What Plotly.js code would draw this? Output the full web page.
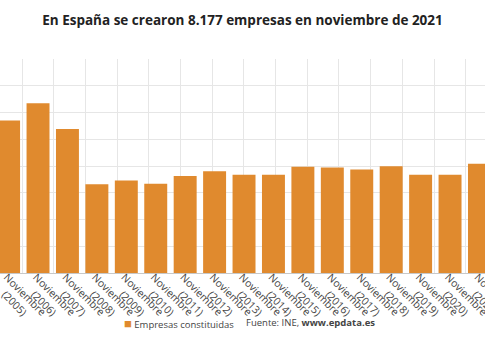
<!DOCTYPE html>
<html>
<head>
<meta charset="utf-8">
<script src="https://cdn.plot.ly/plotly-3.0.1.min.js"></script>
<style>html,body{margin:0;padding:0;background:#fff;}#chart{width:485px;height:360px;}</style>
</head>
<body>
<div id="chart"></div>
<script>
const years = ["2005","2006","2007","2008","2009","2010","2011","2012","2013","2014","2015","2016","2017","2018","2019","2020","2021"];
const empresas = [11400, 12700, 10760, 6630, 6925, 6670, 7250, 7600, 7345, 7345, 7940, 7880, 7745, 7990, 7345, 7345, 8177];
const monthLabel = "Noviembre";
const seriesName = "Empresas constituidas";
const titleText = "En España se crearon 8.177 empresas en noviembre de 2021";
const sourceText = "Fuente: INE, <b>www.epdata.es</b>";
const barColor = "#E08A2E";

// second line indented with non-breaking spaces so both lines look centred like the original
const categories = years.map(y => monthLabel + "<br>\u00a0\u00a0\u00a0\u00a0(" + y + ")");

const traces = [{
  type: "bar",
  x: categories,
  y: empresas,
  name: seriesName,
  marker: {color: barColor},
  showlegend: false,
  hoverinfo: "skip"
}, {
  type: "scatter", x: [0], y: [0], xaxis: "x2", mode: "markers",
  marker: {opacity: 0}, showlegend: false, hoverinfo: "skip"
}];

const layout = {
  width: 485, height: 360,
  margin: {l: 0, r: 0, t: 59, b: 87, pad: 0},
  paper_bgcolor: "#fff", plot_bgcolor: "#fff",
  font: {family: "Open Sans, sans-serif", color: "#333"},
  title: {text: "<b>" + titleText + "</b>", font: {size: 13.5, color: "#222"}, x: 0.5, xanchor: "center", y: 0.943, yanchor: "middle"},
  bargap: 0.22,
  xaxis: {
    type: "category",
    range: [-0.292, 16.188],
    tickangle: 45,
    tickfont: {size: 10.5, color: "#444"},
    ticklabelstandoff: -7,
    ticklabelshift: -2,
    showgrid: false,
    showline: true, linecolor: "#c8c8c8", linewidth: 1,
    ticks: "", fixedrange: true
  },
  xaxis2: {
    overlaying: "x",
    range: [-0.694, 14.606],
    dtick: 1, tick0: 0,
    showgrid: true, gridcolor: "#e6e6e6", gridwidth: 1,
    showticklabels: false, zeroline: false, ticks: "", side: "top"
  },
  yaxis: {
    range: [0, 16000],
    dtick: 2000,
    showgrid: true, gridcolor: "#e6e6e6", gridwidth: 1,
    showticklabels: false, zeroline: false, ticks: "", fixedrange: true
  },
  showlegend: false,
  annotations: [{
    text: "<span style='color:" + barColor + ";font-size:13px'>■</span> " + seriesName,
    xref: "paper", yref: "paper",
    x: 0.252, xanchor: "left", y: -0.233, yanchor: "middle",
    showarrow: false, font: {size: 9.5, color: "#444"}
  }, {
    text: sourceText, xref: "paper", yref: "paper",
    x: 0.503, xanchor: "left", y: -0.233, yanchor: "middle",
    showarrow: false, font: {size: 9.5, color: "#444"}
  }]
};

Plotly.newPlot("chart", traces, layout, {displayModeBar: false, staticPlot: true});
</script>
</body>
</html>
